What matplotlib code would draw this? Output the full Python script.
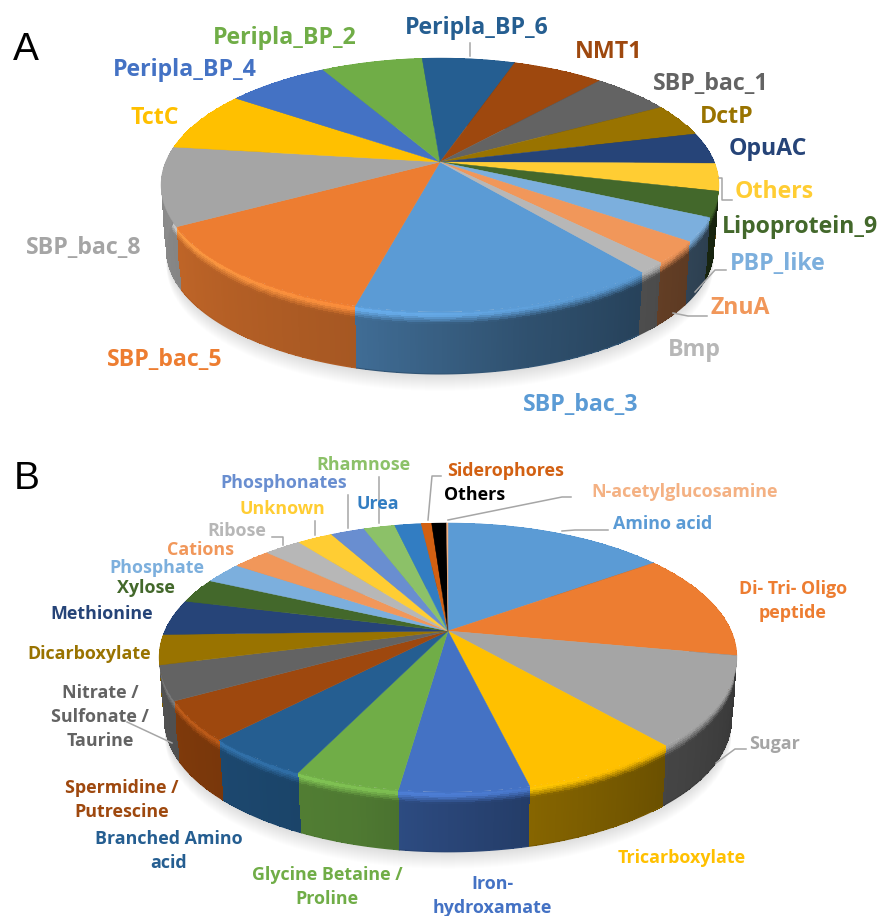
#!/usr/bin/env python
import numpy as np
import matplotlib
matplotlib.use('Agg')
from matplotlib import pyplot as plt
from matplotlib.colors import to_rgb

# top panel, clockwise from the first slice
labels_a = ['SBP_bac_3', 'SBP_bac_5', 'SBP_bac_8', 'TctC', 'Peripla_BP_4', 'Peripla_BP_2',
            'Peripla_BP_6', 'NMT1', 'SBP_bac_1', 'DctP', 'OpuAC', 'Others',
            'Lipoprotein_9', 'PBP_like', 'ZnuA', 'Bmp']
shares_a = [15.06, 12.9, 10.0, 7.7, 7.1, 7.0, 6.4, 6.3, 5.5, 4.2, 4.0, 3.5, 3.2, 3.0, 2.8, 1.4]

# bottom panel
labels_b = ['Amino acid', 'Di- Tri- Oligo\npeptide', 'Sugar', 'Tricarboxylate',
            'Iron-\nhydroxamate', 'Glycine Betaine /\nProline', 'Branched Amino\nacid',
            'Spermidine /\nPutrescine', 'Nitrate /\nSulfonate /\nTaurine', 'Dicarboxylate',
            'Methionine', 'Xylose', 'Phosphate', 'Cations', 'Ribose', 'Unknown',
            'Phosphonates', 'Rhamnose', 'Urea', 'Siderophores', 'Others', 'N-acetylglucosamine']
shares_b = [15.0, 12.9, 10.7, 7.6, 6.0, 4.9, 5.0, 4.7, 4.1, 3.6, 4.3, 3.0, 2.6, 2.6, 2.5,
            2.4, 2.3, 2.1, 1.8, 0.7, 1.0, 0.1]

office = ['#5B9BD5', '#ED7D31', '#A5A5A5', '#FFC000', '#4472C4', '#70AD47', '#255E91',
          '#9E480E', '#636363', '#997300', '#264478', '#43682B', '#7CAFDD', '#F1975A',
          '#B7B7B7', '#FFCD33', '#698ED0', '#8CC168', '#327DC2', '#D26012', '#000000', '#F4B183']
colors_a = office[:11] + ['#FFCD33', '#43682B', '#7CAFDD', '#F1975A', '#B7B7B7']
colors_b = office

# label centres in figure pixels
pos_a = [(581, 405), (165, 360), (84, 248), (155, 118), (185, 70), (285, 38), (477, 28),
         (609, 52), (711, 84), (727, 117), (768, 149), (774, 192), (800, 227), (778, 264),
         (740, 308), (694, 350)]
pos_b = [(663, 524), (793, 601), (775, 744), (682, 858), (492, 896), (327, 887), (169, 851),
         (122, 800), (100, 717), (89, 654), (102, 614), (146, 588), (157, 568), (201, 550),
         (237, 531), (282, 509), (284, 483), (363, 465), (378, 504), (506, 471), (475, 495),
         (685, 492)]

leaders_a = [[(470, 43), (470, 56)],
             [(719, 178), (722, 178), (722, 200), (732, 200)],
             [(695, 292), (715, 270), (726, 270)],
             [(673, 313), (688, 316), (707, 316)]]
leaders_b = [[(272, 537), (283, 537), (283, 545)],
             [(315, 521), (315, 535)],
             [(348, 495), (348, 528)],
             [(379, 477), (379, 523)],
             [(428, 520), (432, 476), (441, 476)],
             [(448, 520), (562, 497), (571, 497)],
             [(562, 531), (575, 530), (608, 530)],
             [(716, 763), (735, 749), (746, 749)],
             [(172, 743), (127, 722)]]

FONT = 'Open Sans'

# wall brightness around the pie, degrees clockwise from 12 o'clock
shade_t = [60, 90, 110, 140, 165, 195, 240, 270, 300]
shade_f = [0.30, 0.30, 0.35, 0.42, 0.52, 0.70, 0.80, 0.85, 0.85]
gloss_t = [90, 140, 180, 240, 280]
gloss_f = [-0.15, -0.05, 0.08, 0.18, 0.05]


def rim(theta, x0, y0, a, b, k):
    # perspective view of the unit circle, apex stays off the ellipse centre
    u = np.sin(np.radians(theta))
    v = -np.cos(np.radians(theta))
    w = 1 - k*v
    return x0 + a*u/w, y0 + b*v/w


def draw_pie(ax, shares, colors, x0, y0, a, b, k, depth, start):
    shrink = 0.98
    ang = start + np.concatenate(([0], np.cumsum(shares)))*360.0/np.sum(shares)

    # soft shadow under the disc
    t = np.linspace(0, 360, 361)
    x, y = rim(t, x0, y0, a, b, k)
    xb = x0 + (x-x0)*shrink
    yb = y0 + (y-y0)*shrink + depth
    for off in range(17, 0, -1):
        ax.fill(xb, yb+off, color='k', alpha=0.008, lw=0, zorder=1)

    # side wall, far slices first
    fracs = np.concatenate(([0, 0.025, 0.05, 0.08, 0.11, 0.14, 0.17, 0.2], np.linspace(0.3, 1, 4)))
    mids = (ang[:-1]+ang[1:])/2
    order = np.argsort(-np.abs(((mids-180+180) % 360)-180))
    for n, i in enumerate(order):
        base = np.array(to_rgb(colors[i]))
        tt = np.linspace(ang[i], ang[i+1], max(int((ang[i+1]-ang[i])*2), 2)+1)
        x, y = rim(tt, x0, y0, a, b, k)
        xb = x0 + (x-x0)*shrink
        yb = y0 + (y-y0)*shrink + depth
        X = np.outer(1-fracs, x) + np.outer(fracs, xb)
        Y = np.outer(1-fracs, y) + np.outer(fracs, yb)
        tm = ((tt[:-1]+tt[1:])/2) % 360
        f = np.interp(tm, shade_t, shade_f)
        g = np.interp(tm, gloss_t, gloss_f)
        C = np.zeros((len(fracs)-1, len(tm), 3))
        fm = (fracs[:-1]+fracs[1:])/2
        for j in range(len(tm)):
            wall = base*f[j]
            hi = np.clip(base*(1+g[j]) + max(g[j], 0)*0.25, 0, 1)
            for m, q in enumerate(fm):
                if q < 0.05:
                    C[m, j] = base + (hi-base)*q/0.05
                elif q < 0.19:
                    C[m, j] = hi + (wall-hi)*(q-0.05)/0.14
                else:
                    C[m, j] = wall
        ax.pcolormesh(X, Y, C, shading='flat', antialiased=False, zorder=2+n*0.01)
        ax.plot(xb, yb, color=base*f.mean(), lw=0.8, zorder=2+n*0.01)

    # top face
    for i in range(len(shares)):
        tt = np.linspace(ang[i], ang[i+1], max(int(ang[i+1]-ang[i]), 2)+1)
        x, y = rim(tt, x0, y0, a, b, k)
        ax.fill(np.r_[x0, x], np.r_[y0, y], color=colors[i], lw=0.3, zorder=3)


def put_labels(ax, labels, colors, pos, size):
    for s, c, p in zip(labels, colors, pos):
        ax.text(p[0], p[1], s, color=c, fontsize=size, family=FONT, weight='bold',
                ha='center', va='center', linespacing=1.45, zorder=5)


fig = plt.figure(figsize=(8.79, 9.16), dpi=100)
ax = fig.add_axes([0, 0, 1, 1])
ax.set_xlim(0, 879)
ax.set_ylim(916, 0)
ax.axis('off')

draw_pie(ax, shares_a, colors_a, 440, 162, 274.4, 122.8, 0.181, 65, 140.6)
draw_pie(ax, shares_b, colors_b, 448, 631, 283.3, 129.3, 0.197, 63, 0.0)

for line in leaders_a + leaders_b:
    ax.plot(*zip(*line), color='#A6A6A6', lw=1.1, zorder=4)

put_labels(ax, labels_a, colors_a, pos_a, 16.7)
put_labels(ax, labels_b, colors_b, pos_b, 12.9)

ax.text(26, 50, 'A', fontsize=28, family='Liberation Sans', ha='center', va='center', color='k')
ax.text(27, 479, 'B', fontsize=28, family='Liberation Sans', ha='center', va='center', color='k')

fig.savefig('out.png', dpi=100)
